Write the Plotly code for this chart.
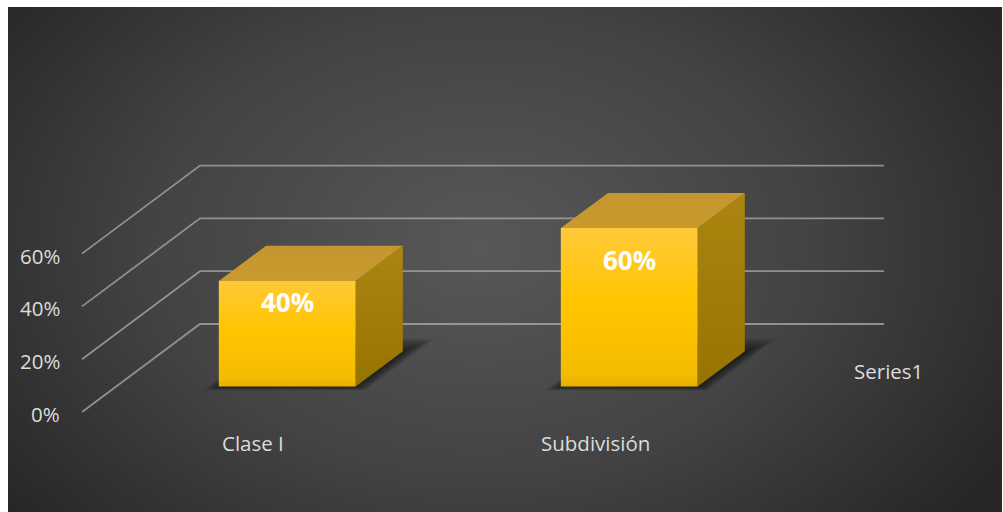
import numpy as np
import plotly.graph_objects as go

# ---- data -------------------------------------------------------------
categories = ["Clase I", "Subdivisión"]
values = [0.40, 0.60]
tick_values = [0.0, 0.2, 0.4, 0.6]
tick_labels = ["0%", "20%", "40%", "60%"]
series_name = "Series1"

# ---- oblique 3-D projection of the plot box ----------------------------
W, H = 1003, 512
PX_X = 342.0            # pixels per category slot
PX_Y = 264.0            # pixels per 100 %
X_ORIGIN = 253.0        # pixel x of category 0 on the front floor edge
Y_ORIGIN = 412.0        # pixel y of 0 % on the front floor edge
DEPTH_PX = 88.0         # vertical pixel extent of the depth axis
DEPTH_DX = 118.0 / PX_X # shift of the back wall, in x units
DEPTH_DY = DEPTH_PX / PX_Y  # shift of the back wall, in y units
BAR_W = 0.40            # bar width in category units
D_FRONT, D_BACK = 0.29, 0.69  # bar extent along the depth axis


def px_to_x(p):
    return (p - X_ORIGIN) / PX_X


def px_to_y(p):
    return (Y_ORIGIN - p) / PX_Y


def proj(x, y, d):
    """Project a point (category x, value y, depth d) onto the page."""
    return x + DEPTH_DX * d, y + DEPTH_DY * d


def poly(points):
    xs = [p[0] for p in points] + [points[0][0]]
    ys = [p[1] for p in points] + [points[0][1]]
    return xs, ys


fig = go.Figure()

# ---- radial background ---------------------------------------------------
nx, ny = 120, 70
left, right, top, bottom = 8.0, 1002.0, 7.0, 512.0
cw = (right - left) / nx
ch = (bottom - top) / ny
px_c = left + (np.arange(nx) + 0.5) * cw
py_c = bottom - (np.arange(ny) + 0.5) * ch        # bottom -> top
gx, gy = np.meshgrid(px_c, py_c)
r = np.sqrt(((gx - 480.0) / 570.0) ** 2 + ((gy - 245.0) / 400.0) ** 2)
fig.add_trace(go.Heatmap(
    x=px_to_x(px_c), y=px_to_y(py_c), z=np.clip(r, 0, 1.1),
    zmin=0, zmax=1.05, zsmooth="best", showscale=False, hoverinfo="skip",
    colorscale=[[0, "#585858"], [0.55, "#434343"], [1, "#272727"]],
))

# ---- walls: depth gridlines + back wall gridlines -------------------------
x_min, x_max = -0.5, len(categories) - 0.5
gxs, gys = [], []
for t in tick_values:
    for p in (proj(x_min, t, 0), proj(x_min, t, 1), proj(x_max, t, 1)):
        gxs.append(p[0])
        gys.append(p[1])
    gxs.append(None)
    gys.append(None)
fig.add_trace(go.Scatter(x=gxs, y=gys, mode="lines", hoverinfo="skip",
                         line=dict(color="rgba(165,165,165,0.8)", width=1.8)))

# ---- soft shadows beneath the columns -----------------------------------
for i, v in enumerate(values):
    xl, xr = i - BAR_W / 2, i + BAR_W / 2
    for k in range(7, 0, -1):
        e = 1.8 * k
        ex = e / PX_X
        ed_front = 0.3 * e / DEPTH_PX
        ed_back = e / DEPTH_PX
        sx = 2.0 / PX_X
        pts = [proj(xl - ex + sx, 0, D_FRONT - ed_front),
               proj(xr + ex + sx, 0, D_FRONT - ed_front),
               proj(xr + ex + sx, 0, D_BACK + ed_back),
               proj(xl - ex + sx, 0, D_BACK + ed_back)]
        xs, ys = poly(pts)
        fig.add_trace(go.Scatter(x=xs, y=ys, mode="lines", fill="toself",
                                 fillcolor="rgba(0,0,0,0.09)",
                                 line=dict(width=0), hoverinfo="skip"))

# ---- 3-D columns ---------------------------------------------------------
for i, v in enumerate(values):
    xl, xr = i - BAR_W / 2, i + BAR_W / 2
    side = [proj(xr, 0, D_FRONT), proj(xr, 0, D_BACK),
            proj(xr, v, D_BACK), proj(xr, v, D_FRONT)]
    topf = [proj(xl, v, D_FRONT), proj(xr, v, D_FRONT),
            proj(xr, v, D_BACK), proj(xl, v, D_BACK)]
    front = [proj(xl, 0, D_FRONT), proj(xr, 0, D_FRONT),
             proj(xr, v, D_FRONT), proj(xl, v, D_FRONT)]

    xs, ys = poly(side)
    fig.add_trace(go.Scatter(
        x=xs, y=ys, mode="lines", fill="toself", line=dict(width=0),
        fillgradient=dict(type="vertical",
                          colorscale=[[0, "#977400"], [1, "#AB8510"]]),
        hoverinfo="skip"))
    xs, ys = poly(topf)
    fig.add_trace(go.Scatter(
        x=xs, y=ys, mode="lines", fill="toself", line=dict(width=0),
        fillgradient=dict(type="vertical",
                          colorscale=[[0, "#C99A2C"], [1, "#C49630"]]),
        hoverinfo="skip"))
    xs, ys = poly(front)
    fig.add_trace(go.Scatter(
        x=xs, y=ys, mode="lines", fill="toself", line=dict(width=0),
        fillgradient=dict(type="vertical",
                          colorscale=[[0, "#E9B000"], [0.08, "#F4BC00"],
                                      [0.55, "#FFC600"], [1, "#FFC93A"]]),
        hoverinfo="skip"))

# ---- text ----------------------------------------------------------------
annotations = []
axis_font = dict(family="Open Sans", size=20.5, color="#DCDCDC")
for t, lab in zip(tick_values, tick_labels):
    x0, y0 = proj(x_min, t, 0)
    annotations.append(dict(x=x0, y=y0, text=lab, showarrow=False,
                            xanchor="right", yanchor="middle",
                            xshift=-20, yshift=-2, font=axis_font))
for i, cat in enumerate(categories):
    annotations.append(dict(x=i, y=0, text=cat, showarrow=False,
                            xanchor="center", yanchor="middle",
                            yshift=-31, font=axis_font))
sx, sy = proj(x_max, 0, 0.5)
annotations.append(dict(x=sx, y=sy, text=series_name, showarrow=False,
                        xanchor="left", yanchor="middle", xshift=27,
                        yshift=-3, font=axis_font))
for i, v in enumerate(values):
    lx, ly = proj(i, 0.8 * v, D_FRONT)
    annotations.append(dict(x=lx, y=ly, text=f"<b>{v:.0%}</b>",
                            showarrow=False, xanchor="center",
                            yanchor="middle",
                            font=dict(family="Open Sans", size=26,
                                      color="#FFFFFF")))

fig.update_layout(
    width=W, height=H, margin=dict(l=0, r=0, t=0, b=0),
    paper_bgcolor="#FFFFFF", plot_bgcolor="#FFFFFF",
    showlegend=False, hovermode=False,
    xaxis=dict(range=[px_to_x(0), px_to_x(W)], visible=False, fixedrange=True),
    yaxis=dict(range=[px_to_y(H), px_to_y(0)], visible=False, fixedrange=True),
    annotations=annotations,
)

fig.write_html("out.html")
